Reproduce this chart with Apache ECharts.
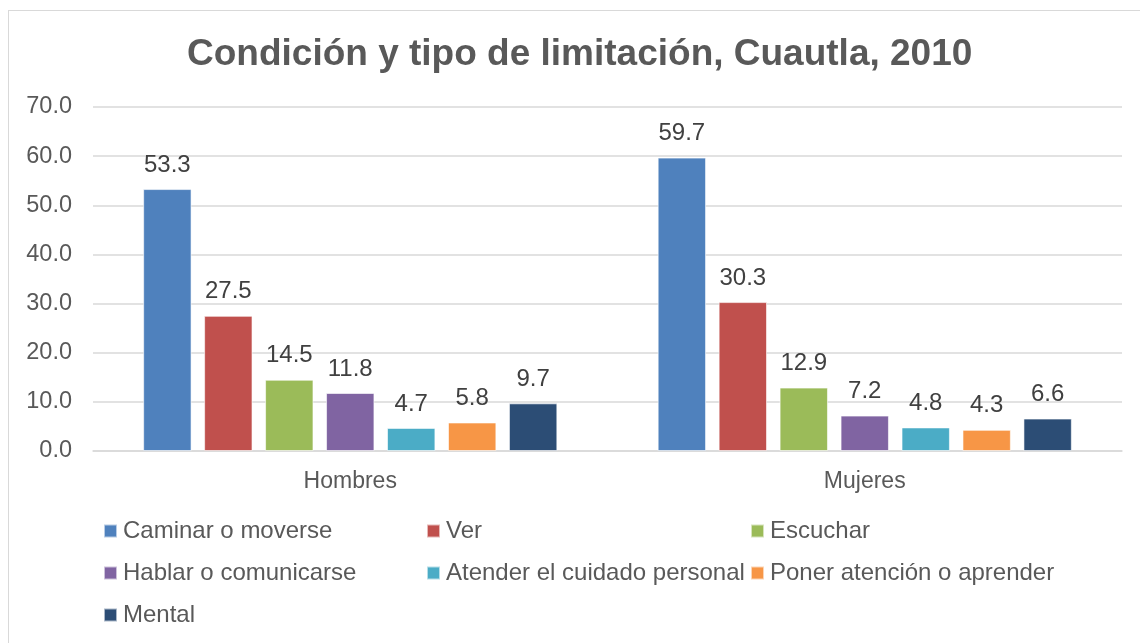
<!DOCTYPE html>
<html>
<head>
<meta charset="utf-8">
<script src="https://cdn.jsdelivr.net/npm/echarts@6/dist/echarts.min.js"></script>
<style>
	html, body { margin: 0; padding: 0; background: #fff; }
	#frame { position: absolute; left: 8px; top: 10px; width: 1140px; height: 643px; border-left: 1px solid #d9d9d9; border-top: 1px solid #d9d9d9; }
	#bar_chart { position: absolute; left: 0; top: 0; width: 1140px; height: 643px; }
</style>
</head>
<body>
<div id="frame"></div>
<div id="bar_chart"></div>
<script>
var categories = ['Hombres', 'Mujeres'];
var seriesNames = [
	'Caminar o moverse',
	'Ver',
	'Escuchar',
	'Hablar o comunicarse',
	'Atender el cuidado personal',
	'Poner atención o aprender',
	'Mental'
];
var caminar = [53.3, 59.7];
var ver = [27.5, 30.3];
var escuchar = [14.5, 12.9];
var hablar = [11.8, 7.2];
var atender = [4.7, 4.8];
var poner = [5.8, 4.3];
var mental = [9.7, 6.6];
var colors = ['#4f81bd', '#c0504d', '#9bbb59', '#8064a2', '#4bacc6', '#f79646', '#2c4d75'];

var values = [caminar, ver, escuchar, hablar, atender, poner, mental];
var fontName = '"Liberation Sans", Arial, sans-serif';

function bar_chart() {
	var chart = echarts.init(document.getElementById('bar_chart'));
	var legendBase = {
		orient: 'vertical',
		top: 519,
		padding: 0,
		itemWidth: 13,
		itemHeight: 13,
		itemGap: 18,
		icon: 'rect',
		textStyle: { fontFamily: fontName, fontSize: 24, color: '#595959', padding: [0, 0, 0, 1] }
	};
	chart.setOption({
		color: colors,
		animation: false,
		title: {
			text: 'Condición y tipo de limitación, Cuautla, 2010',
			left: 182,
			top: 31,
			textStyle: { fontFamily: fontName, fontSize: 37, fontWeight: 'bold', color: '#595959' }
		},
		legend: [
			Object.assign({}, legendBase, { left: 103, data: [seriesNames[0], seriesNames[3], seriesNames[6]] }),
			Object.assign({}, legendBase, { left: 426, data: [seriesNames[1], seriesNames[4]] }),
			Object.assign({}, legendBase, { left: 750, data: [seriesNames[2], seriesNames[5]] })
		],
		grid: {
			left: 93,
			right: 18,
			top: 107,
			bottom: 192
		},
		xAxis: {
			type: 'category',
			data: categories,
			axisLine: { lineStyle: { color: '#d9d9d9', width: 1.5 } },
			axisTick: { show: false },
			axisLabel: { fontFamily: fontName, fontSize: 23, color: '#595959', margin: 19 }
		},
		yAxis: {
			type: 'value',
			min: 0,
			max: 70,
			interval: 10,
			axisLabel: {
				fontFamily: fontName, fontSize: 23.5, color: '#595959', margin: 21,
				formatter: function (v) { return v.toFixed(1); }
			},
			splitLine: { lineStyle: { color: '#d9d9d9', width: 1.5 } }
		},
		series: seriesNames.map(function (name, i) {
			return {
				name: name,
				type: 'bar',
				data: values[i],
				barGap: '26%',
				barCategoryGap: '19.5%',
				itemStyle: { borderColor: 'rgba(255,255,255,0.6)', borderWidth: 1 },
				label: {
					show: true,
					position: 'top',
					distance: 12,
					fontFamily: fontName,
					fontSize: 24,
					color: '#404040',
					formatter: function (p) { return p.value.toFixed(1); }
				}
			};
		})
	});
}
bar_chart();
</script>
</body>
</html>
